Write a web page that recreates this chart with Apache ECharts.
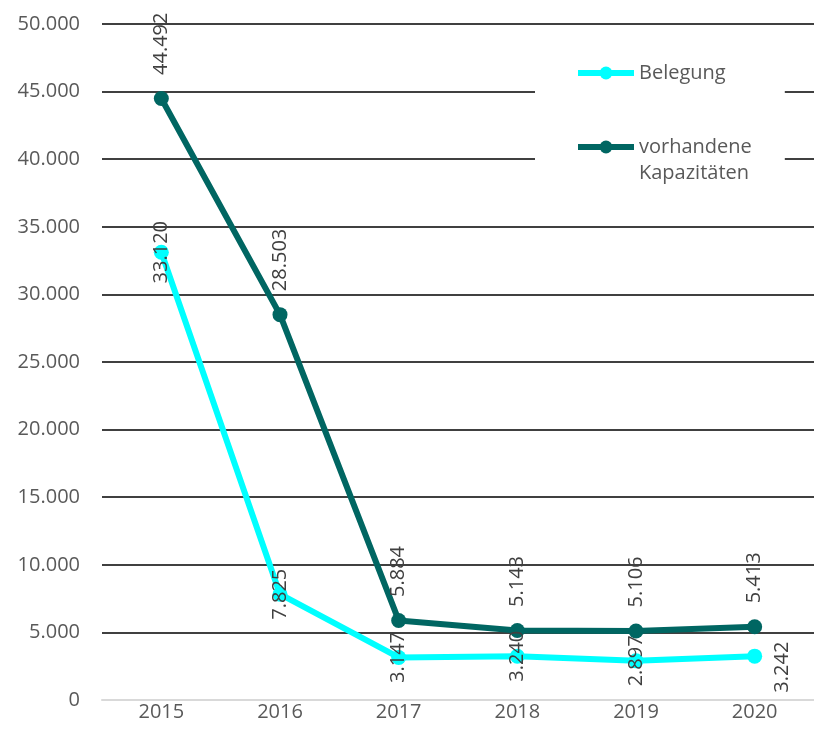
<!DOCTYPE html>
<html>
<head>
<meta charset="utf-8">
<script src="https://cdn.jsdelivr.net/npm/echarts@6/dist/echarts.min.js"></script>
<style>
  html, body { margin: 0; padding: 0; background: #fff; }
  #chart { width: 814px; height: 741px; }
</style>
</head>
<body>
<div id="chart"></div>
<script>
const years = ['2015', '2016', '2017', '2018', '2019', '2020']
const belegung = [33120, 7825, 3147, 3240, 2897, 3242]
const kapazitaeten = [44492, 28503, 5884, 5143, 5106, 5413]
const seriesNames = ['Belegung', 'vorhandene\nKapazitäten']

const textColor = '#595959'
const fontFamily = '"Open Sans", "Noto Sans", sans-serif'

// 1234 -> 1.234
function fmt(v) {
  return String(v).replace(/\B(?=(\d{3})+(?!\d))/g, '.')
}

const chart = echarts.init(document.getElementById('chart'))

const belegungData = belegung.map(function (v, i) {
  if (i === belegung.length - 1) {
    // last label sits below right of the point
    return { value: v, label: { offset: [-11, 28] } }
  }
  return v
})

chart.setOption({
  animation: false,
  textStyle: { fontFamily: fontFamily },
  grid: { left: 102, right: -3, top: 24, bottom: 41 },
  legend: {
    orient: 'vertical',
    left: 535,
    top: 46,
    padding: [14, 33, 14, 40],
    backgroundColor: '#fff',
    itemWidth: 56,
    itemHeight: 16,
    itemGap: 22,
    lineStyle: { width: 6 },
    textStyle: { color: textColor, fontSize: 20, lineHeight: 26, fontFamily: fontFamily },
    // blank first line keeps "vorhandene" level with its icon
    formatter: function (name) {
      return name === seriesNames[1] ? ' \n' + name : name
    },
    data: seriesNames
  },
  xAxis: {
    type: 'category',
    data: years,
    boundaryGap: true,
    axisLine: { lineStyle: { color: '#d9d9d9', width: 2 } },
    axisTick: { show: false },
    axisLabel: { color: textColor, fontSize: 20, margin: 2 }
  },
  yAxis: {
    type: 'value',
    min: 0,
    max: 50000,
    interval: 5000,
    axisLine: { show: false },
    axisTick: { show: false },
    axisLabel: { color: textColor, fontSize: 20, margin: 22, formatter: fmt },
    splitLine: { lineStyle: { color: '#000', width: 1.5 } }
  },
  series: [
    {
      name: seriesNames[0],
      type: 'line',
      data: belegungData,
      color: '#00ffff',
      symbol: 'circle',
      symbolSize: 15,
      lineStyle: { width: 6 },
      z: 3,
      label: {
        show: true,
        position: 'inside',
        rotate: 90,
        align: 'center',
        verticalAlign: 'middle',
        color: '#404040',
        fontSize: 20,
        formatter: function (p) { return fmt(p.value) }
      }
    },
    {
      name: seriesNames[1],
      type: 'line',
      data: kapazitaeten,
      color: '#006662',
      symbol: 'circle',
      symbolSize: 15,
      lineStyle: { width: 6 },
      z: 2,
      label: {
        show: true,
        position: 'top',
        distance: 16,
        rotate: 90,
        align: 'left',
        verticalAlign: 'middle',
        color: '#404040',
        fontSize: 20,
        formatter: function (p) { return fmt(p.value) }
      }
    }
  ]
})
</script>
</body>
</html>
